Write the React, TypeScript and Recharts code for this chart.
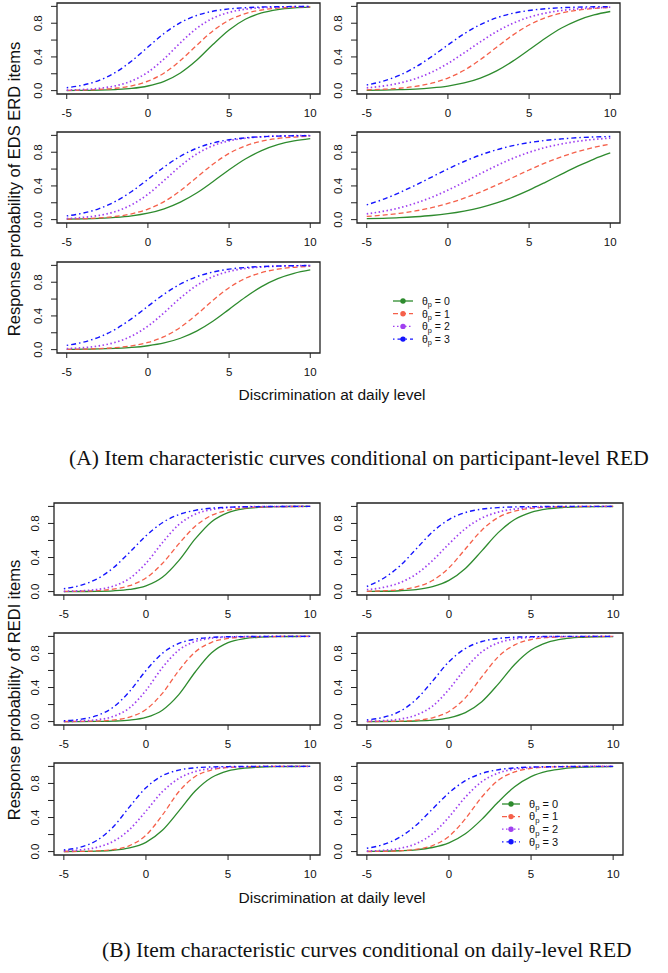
import React from "react";
import { LineChart, Line, XAxis, YAxis, ReferenceArea } from "recharts";

// discrimination at daily level (x) and theta_p levels
const discrimination = [-5, -4, -3, -2, -1, 0, 1, 2, 3, 4, 5, 6, 7, 8, 9, 10];
const thetaLevels = [0, 1, 2, 3];
const xTicks = [-5, 0, 5, 10];
const yTicks = [0, 0.2, 0.4, 0.6, 0.8, 1];
const yLabelled = [0, 0.4, 0.8];

// (A) EDS ERD items, one row per theta_p = 0, 1, 2, 3
const panelA1 = [
  [0.001, 0.003, 0.006, 0.013, 0.026, 0.055, 0.11, 0.21, 0.36, 0.547, 0.72, 0.847, 0.922, 0.962, 0.982, 0.991],
  [0.003, 0.007, 0.014, 0.028, 0.057, 0.112, 0.209, 0.357, 0.537, 0.709, 0.836, 0.915, 0.957, 0.979, 0.99, 0.995],
  [0.006, 0.013, 0.027, 0.057, 0.115, 0.219, 0.378, 0.567, 0.739, 0.859, 0.929, 0.966, 0.984, 0.992, 0.996, 0.998],
  [0.035, 0.066, 0.122, 0.216, 0.352, 0.517, 0.679, 0.807, 0.892, 0.942, 0.97, 0.984, 0.992, 0.996, 0.998, 0.999],
];
const panelA2 = [
  [0.004, 0.006, 0.011, 0.018, 0.032, 0.054, 0.091, 0.149, 0.235, 0.35, 0.485, 0.622, 0.743, 0.835, 0.898, 0.939],
  [0.009, 0.016, 0.028, 0.05, 0.088, 0.149, 0.242, 0.368, 0.515, 0.659, 0.779, 0.865, 0.921, 0.955, 0.975, 0.986],
  [0.033, 0.054, 0.089, 0.142, 0.219, 0.323, 0.448, 0.579, 0.701, 0.799, 0.871, 0.92, 0.951, 0.971, 0.982, 0.99],
  [0.067, 0.112, 0.181, 0.279, 0.404, 0.542, 0.675, 0.784, 0.864, 0.918, 0.951, 0.972, 0.984, 0.991, 0.995, 0.997],
];
const panelA3 = [
  [0.005, 0.009, 0.015, 0.026, 0.045, 0.077, 0.129, 0.208, 0.316, 0.45, 0.591, 0.719, 0.819, 0.889, 0.934, 0.962],
  [0.006, 0.011, 0.02, 0.037, 0.069, 0.125, 0.214, 0.343, 0.5, 0.657, 0.786, 0.875, 0.931, 0.963, 0.98, 0.99],
  [0.013, 0.026, 0.05, 0.096, 0.177, 0.301, 0.465, 0.636, 0.779, 0.877, 0.935, 0.966, 0.983, 0.992, 0.996, 0.998],
  [0.044, 0.077, 0.131, 0.216, 0.334, 0.478, 0.625, 0.752, 0.847, 0.91, 0.948, 0.971, 0.984, 0.991, 0.995, 0.997],
];
const panelA4 = [
  [0.011, 0.016, 0.023, 0.034, 0.049, 0.071, 0.102, 0.143, 0.198, 0.267, 0.35, 0.443, 0.54, 0.634, 0.719, 0.791],
  [0.038, 0.053, 0.074, 0.103, 0.142, 0.192, 0.254, 0.327, 0.411, 0.5, 0.589, 0.673, 0.746, 0.808, 0.858, 0.897],
  [0.068, 0.098, 0.139, 0.195, 0.265, 0.35, 0.445, 0.545, 0.641, 0.727, 0.799, 0.856, 0.898, 0.93, 0.952, 0.967],
  [0.176, 0.24, 0.319, 0.409, 0.505, 0.601, 0.69, 0.767, 0.829, 0.878, 0.914, 0.94, 0.958, 0.972, 0.981, 0.987],
];
const panelA5 = [
  [0.003, 0.005, 0.008, 0.015, 0.026, 0.046, 0.079, 0.135, 0.219, 0.336, 0.478, 0.622, 0.748, 0.843, 0.906, 0.946],
  [0.003, 0.006, 0.012, 0.023, 0.045, 0.085, 0.154, 0.265, 0.416, 0.584, 0.735, 0.846, 0.915, 0.955, 0.977, 0.988],
  [0.012, 0.023, 0.045, 0.087, 0.161, 0.279, 0.438, 0.613, 0.761, 0.865, 0.928, 0.963, 0.981, 0.991, 0.995, 0.998],
  [0.05, 0.088, 0.149, 0.242, 0.368, 0.515, 0.659, 0.779, 0.865, 0.921, 0.955, 0.975, 0.986, 0.992, 0.996, 0.998],
];

// (B) REDI items
const panelB1 = [
  [0.0004, 0.001, 0.003, 0.009, 0.025, 0.067, 0.168, 0.364, 0.618, 0.821, 0.928, 0.973, 0.99, 0.997, 0.999, 1.0],
  [0.002, 0.004, 0.011, 0.028, 0.069, 0.16, 0.33, 0.56, 0.767, 0.895, 0.956, 0.983, 0.993, 0.997, 0.999, 1.0],
  [0.003, 0.009, 0.024, 0.063, 0.154, 0.332, 0.574, 0.786, 0.909, 0.964, 0.987, 0.995, 0.998, 0.999, 1.0, 1.0],
  [0.034, 0.072, 0.147, 0.277, 0.46, 0.655, 0.808, 0.904, 0.954, 0.979, 0.99, 0.996, 0.998, 0.999, 1.0, 1.0],
];
const panelB2 = [
  [0.002, 0.004, 0.01, 0.024, 0.058, 0.131, 0.271, 0.478, 0.692, 0.847, 0.931, 0.971, 0.988, 0.995, 0.998, 0.999],
  [0.003, 0.009, 0.022, 0.055, 0.13, 0.279, 0.5, 0.721, 0.87, 0.945, 0.978, 0.991, 0.997, 0.999, 1.0, 1.0],
  [0.023, 0.049, 0.103, 0.204, 0.364, 0.56, 0.739, 0.863, 0.933, 0.969, 0.986, 0.994, 0.997, 0.999, 0.999, 1.0],
  [0.06, 0.154, 0.299, 0.5, 0.701, 0.846, 0.928, 0.968, 0.986, 0.994, 0.997, 0.999, 1.0, 1.0, 1.0, 1.0],
];
const panelB3 = [
  [0.0002, 0.0006, 0.002, 0.006, 0.017, 0.049, 0.134, 0.316, 0.582, 0.807, 0.926, 0.974, 0.991, 0.997, 0.999, 1.0],
  [0.0007, 0.002, 0.006, 0.018, 0.052, 0.142, 0.332, 0.599, 0.818, 0.931, 0.976, 0.992, 0.997, 0.999, 1.0, 1.0],
  [0.002, 0.007, 0.021, 0.06, 0.161, 0.366, 0.634, 0.839, 0.94, 0.979, 0.993, 0.998, 0.999, 1.0, 1.0, 1.0],
  [0.01, 0.027, 0.069, 0.168, 0.354, 0.599, 0.802, 0.917, 0.968, 0.988, 0.996, 0.998, 0.999, 1.0, 1.0, 1.0],
];
const panelB4 = [
  [0.0004, 0.001, 0.003, 0.007, 0.017, 0.044, 0.105, 0.233, 0.44, 0.67, 0.84, 0.931, 0.972, 0.989, 0.996, 0.998],
  [0.0007, 0.002, 0.006, 0.016, 0.045, 0.119, 0.279, 0.525, 0.761, 0.9, 0.963, 0.987, 0.995, 0.998, 0.999, 1.0],
  [0.004, 0.011, 0.029, 0.076, 0.182, 0.378, 0.622, 0.818, 0.924, 0.971, 0.989, 0.996, 0.999, 0.999, 1.0, 1.0],
  [0.02, 0.05, 0.119, 0.259, 0.475, 0.703, 0.858, 0.94, 0.976, 0.991, 0.996, 0.999, 1.0, 1.0, 1.0, 1.0],
];
const panelB5 = [
  [0.0008, 0.002, 0.006, 0.016, 0.043, 0.109, 0.25, 0.475, 0.711, 0.87, 0.948, 0.98, 0.993, 0.997, 0.999, 1.0],
  [0.0008, 0.002, 0.008, 0.023, 0.07, 0.192, 0.428, 0.703, 0.882, 0.959, 0.987, 0.996, 0.999, 1.0, 1.0, 1.0],
  [0.008, 0.02, 0.05, 0.119, 0.259, 0.475, 0.703, 0.858, 0.94, 0.976, 0.991, 0.996, 0.999, 1.0, 1.0, 1.0],
  [0.02, 0.052, 0.13, 0.289, 0.525, 0.75, 0.891, 0.957, 0.984, 0.994, 0.998, 0.999, 1.0, 1.0, 1.0, 1.0],
];
const panelB6 = [
  [0.002, 0.004, 0.01, 0.021, 0.048, 0.103, 0.209, 0.378, 0.582, 0.761, 0.88, 0.944, 0.975, 0.989, 0.995, 0.998],
  [0.001, 0.003, 0.009, 0.026, 0.071, 0.179, 0.385, 0.641, 0.836, 0.936, 0.977, 0.992, 0.997, 0.999, 1.0, 1.0],
  [0.006, 0.015, 0.038, 0.093, 0.209, 0.406, 0.639, 0.821, 0.922, 0.968, 0.988, 0.995, 0.998, 0.999, 1.0, 1.0],
  [0.039, 0.083, 0.168, 0.31, 0.5, 0.69, 0.832, 0.917, 0.961, 0.982, 0.992, 0.996, 0.998, 0.999, 1.0, 1.0],
];

const SANS = "'Liberation Sans', Arial, sans-serif";
const SERIF = "'Liberation Serif', 'Times New Roman', serif";
const INK = "#222";

const seriesStyle = [
  { key: "t0", color: "#2e8b2e", dash: undefined, width: 1.3 },
  { key: "t1", color: "#f5604a", dash: "5 3", width: 1.3 },
  { key: "t2", color: "#a040f0", dash: "1.5 2.5", width: 1.7 },
  { key: "t3", color: "#1414ff", dash: "1.5 3 5 3", width: 1.4 },
];

// R style y tick: rotated, only every other tick labelled
const YTick = (props: any) => {
  const { x, y, payload } = props;
  const v = payload.value;
  if (!yLabelled.some((t) => Math.abs(t - v) < 1e-6)) return null;
  const cx = x - 4;
  return (
    <text x={cx} y={y} transform={`rotate(-90 ${cx} ${y})`} textAnchor="middle"
      fontSize={11.5} fontFamily={SANS} fill="#111">
      {v.toFixed(1)}
    </text>
  );
};

const PAD_L = 32, PAD_T = 6, PAD_R = 6, AX_H = 30;

const Panel = ({ curves, left, top, w, h }: any) => {
  const data = discrimination.map((x, i) => ({
    x,
    t0: curves[0][i],
    t1: curves[1][i],
    t2: curves[2][i],
    t3: curves[3][i],
  }));
  return (
    <div style={{ position: "absolute", left: left - PAD_L, top: top - PAD_T }}>
      <LineChart width={w + PAD_L + PAD_R} height={h + PAD_T + AX_H} data={data}
        margin={{ top: PAD_T, right: PAD_R, bottom: 0, left: 0 }}>
        <XAxis dataKey="x" type="number" domain={[-5.6, 10.6]} ticks={xTicks} interval={0}
          allowDataOverflow height={AX_H} axisLine={false} tickSize={5} tickMargin={10}
          tickLine={{ stroke: INK }} tick={{ fontSize: 11.5, fill: "#111", fontFamily: SANS }} />
        <YAxis type="number" domain={[-0.04, 1.04]} ticks={yTicks} interval={0}
          allowDataOverflow width={PAD_L} axisLine={false} tickSize={6} tickMargin={5}
          tickLine={{ stroke: INK }} tick={<YTick />} />
        <ReferenceArea x1={-5.6} x2={10.6} y1={-0.04} y2={1.04} fill="none"
          stroke={INK} strokeWidth={1.3} ifOverflow="visible" />
        {seriesStyle.map((s) => (
          <Line key={s.key} dataKey={s.key} type="monotone" stroke={s.color}
            strokeWidth={s.width} strokeDasharray={s.dash} dot={false}
            isAnimationActive={false} />
        ))}
      </LineChart>
    </div>
  );
};

const ThetaLegend = ({ left, top, gap, lineLen, textX, fontSize }: any) => (
  <svg style={{ position: "absolute", left, top }} width={90} height={gap * 4 + 8}>
    {seriesStyle.map((s, i) => {
      const y = 6 + i * gap;
      return (
        <g key={s.key}>
          <line x1={0} x2={lineLen} y1={y} y2={y} stroke={s.color}
            strokeDasharray={s.dash} strokeWidth={1.3} />
          <circle cx={lineLen / 2} cy={y} r={2.7} fill={s.color} />
          <text x={textX} y={y + 3.8} fontSize={fontSize} fontFamily={SANS} fill="#111">
            θ<tspan fontSize={fontSize * 0.7} dy={2.5}>p</tspan>
            <tspan dy={-2.5}>{` = ${thetaLevels[i]}`}</tspan>
          </text>
        </g>
      );
    })}
  </svg>
);

const panelsA = [
  { curves: panelA1, left: 57, top: 3 },
  { curves: panelA2, left: 357, top: 3 },
  { curves: panelA3, left: 57, top: 132 },
  { curves: panelA4, left: 357, top: 132 },
  { curves: panelA5, left: 57, top: 262 },
];
const panelsB = [
  { curves: panelB1, left: 54, top: 503 },
  { curves: panelB2, left: 357, top: 503 },
  { curves: panelB3, left: 54, top: 633 },
  { curves: panelB4, left: 357, top: 633 },
  { curves: panelB5, left: 54, top: 763 },
  { curves: panelB6, left: 357, top: 763 },
];

export default function App() {
  return (
    <div style={{ position: "fixed", left: 0, top: 0, width: 668, height: 973, background: "#fff", overflow: "hidden" }}>
      {panelsA.map((p, i) => (
        <Panel key={"a" + i} curves={p.curves} left={p.left} top={p.top} w={263} h={91} />
      ))}
      {panelsB.map((p, i) => (
        <Panel key={"b" + i} curves={p.curves} left={p.left} top={p.top} w={266} h={92} />
      ))}

      <ThetaLegend left={393} top={295} gap={12.7} lineLen={20} textX={29} fontSize={10.5} />
      <ThetaLegend left={502} top={798} gap={12.6} lineLen={18} textX={27} fontSize={11} />

      <svg style={{ position: "absolute", left: 0, top: 0 }} width={668} height={973}>
        <text x={0} y={0} transform="translate(20 189) rotate(-90)" textAnchor="middle"
          fontSize={16.5} fontFamily={SANS} fill="#111">
          Response probability of EDS ERD items
        </text>
        <text x={0} y={0} transform="translate(20 690) rotate(-90)" textAnchor="middle"
          fontSize={16.5} fontFamily={SANS} fill="#111">
          Response probability of REDI items
        </text>
        <text x={332} y={400} textAnchor="middle" fontSize={15.5} fontFamily={SANS} fill="#111">
          Discrimination at daily level
        </text>
        <text x={332} y={903} textAnchor="middle" fontSize={15.5} fontFamily={SANS} fill="#111">
          Discrimination at daily level
        </text>
        <text x={69} y={465} fontSize={21.5} fontFamily={SERIF} fill="#111">
          (A) Item characteristic curves conditional on participant-level RED
        </text>
        <text x={102} y={957} fontSize={21.5} fontFamily={SERIF} fill="#111">
          (B) Item characteristic curves conditional on daily-level RED
        </text>
      </svg>
    </div>
  );
}
